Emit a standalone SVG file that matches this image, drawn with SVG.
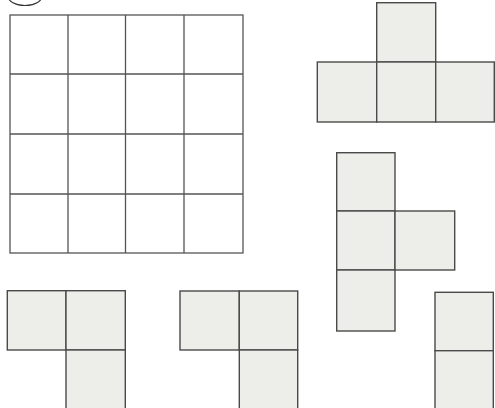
<svg xmlns="http://www.w3.org/2000/svg" width="495" height="408" viewBox="0 0 495 408">
<style>
.g{fill:none;stroke:#555;stroke-width:1.3}
.s{fill:#ededea;stroke:#4a4a4a;stroke-width:1.4}
</style>
<rect width="495" height="408" fill="#fff"/>
<ellipse cx="25" cy="-4" rx="17" ry="9.5" fill="none" stroke="#333" stroke-width="1.2"/>
<g id="grid" class="g">
<rect x="10" y="15" width="233" height="238"/>
<path d="M68 15V253M125.5 15V253M184 15V253M10 74H243M10 134H243M10 194H243"/>
</g>
<g id="tshape" class="s">
<rect x="376.7" y="2.7" width="59" height="59.3"/>
<rect x="317.3" y="62" width="59.4" height="60"/>
<rect x="376.7" y="62" width="59" height="60"/>
<rect x="435.7" y="62" width="58.6" height="60"/>
</g>
<g id="cross" class="s">
<rect x="336.7" y="152.7" width="58.3" height="58.3"/>
<rect x="336.7" y="211" width="58.3" height="59"/>
<rect x="336.7" y="270" width="58.3" height="61"/>
<rect x="395" y="211" width="59.7" height="59"/>
</g>
<g id="l1" class="s">
<rect x="7.3" y="290.7" width="58.7" height="59.3"/>
<rect x="66" y="290.7" width="59.3" height="59.3"/>
<rect x="66" y="350" width="59.3" height="60"/>
</g>
<g id="l2" class="s">
<rect x="180" y="291" width="59.3" height="59"/>
<rect x="239.3" y="291" width="58.4" height="59"/>
<rect x="239.3" y="350" width="58.4" height="60"/>
</g>
<g id="bar" class="s">
<rect x="435" y="292.3" width="58.3" height="58.4"/>
<rect x="435" y="350.7" width="58.3" height="60"/>
</g>
</svg>
